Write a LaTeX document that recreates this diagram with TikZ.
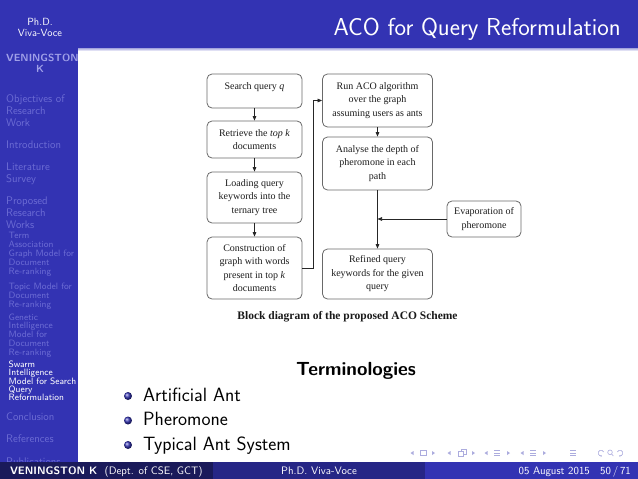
\documentclass[tikz,border=0pt]{standalone}
\usepackage{fontspec}
\usetikzlibrary{arrows.meta,calc}
\newfontfamily\timesf{Liberation Serif}
\definecolor{struct}{RGB}{51,51,179}
\definecolor{footA}{RGB}{26,26,90}
\definecolor{footB}{RGB}{38,38,134}
\definecolor{footC}{RGB}{51,51,179}
\definecolor{sidefade}{RGB}{108,108,212}
\definecolor{sideauth}{RGB}{160,160,232}
\definecolor{navc}{RGB}{172,172,222}
\definecolor{boxline}{RGB}{105,105,105}
\definecolor{boxtext}{RGB}{28,28,28}
\begin{document}
\begin{tikzpicture}[x=1pt,y=-1pt,
  fbox/.style={draw=boxline, line width=0.8pt, rounded corners=5pt, inner sep=0pt, align=center, text=boxtext, font=\timesf\fontsize{10}{13.5}\selectfont},
  conn/.style={draw=black!85, line width=0.7pt},
  arr/.style={conn, -{Triangle[length=4.5pt,width=3.6pt]}},
  sec/.style={anchor=base west, inner sep=0pt, text=sidefade, font=\sffamily\fontsize{11}{12}\selectfont},
  subsec/.style={anchor=base west, inner sep=0pt, text=sidefade, font=\sffamily\fontsize{9.2}{9}\selectfont},
  cursub/.style={subsec, text=white},
  sidetitle/.style={anchor=base, inner sep=0pt, text=white, font=\sffamily\fontsize{10.4}{12}\selectfont},
  sideauthor/.style={inner sep=0pt, text=sideauth, font=\sffamily\bfseries\fontsize{10.4}{12}\selectfont},
  foot/.style={inner sep=0pt, text=white, font=\sffamily\fontsize{10.8}{12}\selectfont},
  itemtext/.style={anchor=base west, inner sep=0pt, text=black, font=\sffamily\fontsize{19.2}{22}\selectfont},
  navline/.style={draw=navc, line width=0.6pt},
  navarc/.style={navline, -{Stealth[length=1.6pt,width=2pt]}},
]
\path[use as bounding box, fill=white] (0,0) rectangle (638,479);

% sidebar and title bar
\fill[struct] (0,0) rectangle (78,462);
\fill[struct] (0,0) rectangle (638,48);
\shade[top color=struct!45!white, bottom color=white] (78,48) rectangle (638,51);

% title
\node[anchor=base east, inner sep=0pt, text=white, font=\sffamily\fontsize{24.5}{28}\selectfont] (title) at (621,35) {ACO for Query Reformulation};

% sidebar texts
\node[sidetitle] (st1) at (40,25) {Ph.D.};
\node[sidetitle] (st2) at (40,36) {Viva-Voce};
\node[sideauthor, anchor=base west] (au1) at (6,61) {VENINGSTON};
\node[sideauthor, anchor=base] (au2) at (40,72) {K};

\node[sec] (s1a) at (6,102) {Objectives of};
\node[sec] (s1b) at (6,114) {Research};
\node[sec] (s1c) at (6,126) {Work};
\node[sec] (s2) at (6,148) {Introduction};
\node[sec] (s3a) at (6,170) {Literature};
\node[sec] (s3b) at (6,182) {Survey};
\node[sec] (s4a) at (6,204) {Proposed};
\node[sec] (s4b) at (6,216) {Research};
\node[sec] (s4c) at (6,228) {Works};

\node[subsec] (u1a) at (8.5,238) {Term};
\node[subsec] (u1b) at (8.5,247.2) {Association};
\node[subsec] (u1c) at (8.5,256.4) {Graph Model for};
\node[subsec] (u1d) at (8.5,265.6) {Document};
\node[subsec] (u1e) at (8.5,274.8) {Re-ranking};
\node[subsec] (u2a) at (8.5,289) {Topic Model for};
\node[subsec] (u2b) at (8.5,298) {Document};
\node[subsec] (u2c) at (8.5,307) {Re-ranking};
\node[subsec] (u3a) at (8.5,320) {Genetic};
\node[subsec] (u3b) at (8.5,328.8) {Intelligence};
\node[subsec] (u3c) at (8.5,337.6) {Model for};
\node[subsec] (u3d) at (8.5,346.4) {Document};
\node[subsec] (u3e) at (8.5,355.2) {Re-ranking};
\node[cursub] (u4a) at (8.5,367.5) {Swarm};
\node[cursub] (u4b) at (8.5,375.8) {Intelligence};
\node[cursub] (u4c) at (8.5,384.1) {Model for Search};
\node[cursub] (u4d) at (8.5,392.4) {Query};
\node[cursub] (u4e) at (8.5,400.7) {Reformulation};

\node[sec] (s5) at (6,420) {Conclusion};
\node[sec] (s6) at (6,442) {References};
\node[sec] (s7) at (6,465) {Publications};

% block diagram
\node[fbox, minimum width=95pt, minimum height=34pt, text height=7pt, text depth=10pt] (b1) at (254.5,91) {Search query \textit{q}};
\node[fbox, minimum width=95pt, minimum height=37pt] (b2) at (254.5,139.5) {Retrieve the \textit{top k}\\documents};
\node[fbox, minimum width=95pt, minimum height=51pt] (b3) at (254.5,197.5) {Loading query\\keywords into the\\ternary tree};
\node[fbox, minimum width=95pt, minimum height=62pt] (b4) at (254.5,268) {Construction of\\graph with words\\present in top \textit{k}\\documents};
\node[fbox, minimum width=110pt, minimum height=53pt] (b5) at (377.5,100.5) {Run ACO algorithm\\over the graph\\assuming users as ants};
\node[fbox, minimum width=110pt, minimum height=53pt] (b6) at (377.5,163.5) {Analyse the depth of\\pheromone in each\\path};
\node[fbox, minimum width=110pt, minimum height=50pt] (b7) at (377.5,274) {Refined query\\keywords for the given\\query};
\node[fbox, minimum width=74pt, minimum height=36pt] (b8) at (484,219) {Evaporation of\\pheromone};

\draw[arr] (b1) -- (b2);
\draw[arr] (b2) -- (b3);
\draw[arr] (b3) -- (b4);
\draw[arr] (b5) -- (b6);
\draw[arr] (b6) -- (b7);
\draw[arr] (b4.east) -- ++(11,0) |- (b5.west);
\coordinate (jn) at (b8.west -| b6.south);
\draw[arr] (b8.west) -- (jn);

\node[inner sep=0pt, text=black!90, font=\timesf\bfseries\fontsize{11.5}{13}\selectfont] (cap) at (347.5,316.5) {Block diagram of the proposed ACO Scheme};

% terminologies
\node[anchor=base, inner sep=0pt, text=black, font=\sffamily\bfseries\fontsize{19}{22}\selectfont] (term) at (356,375) {Terminologies};
\shade[ball color=struct] (128,396) circle (4);
\shade[ball color=struct] (128,420.5) circle (4);
\shade[ball color=struct] (128,445) circle (4);
\node[itemtext] (i1) at (143,401) {Artificial Ant};
\node[itemtext] (i2) at (143,425.5) {Pheromone};
\node[itemtext] (i3) at (143,450) {Typical Ant System};

% navigation symbols
\fill[navc] (410.5,453) -- (413.5,451) -- (413.5,455) -- cycle;
\draw[navline] (420,450.5) rectangle (426,455.5);
\fill[navc] (435,453) -- (432,451) -- (432,455) -- cycle;
\fill[navc] (447.5,453) -- (450.5,451) -- (450.5,455) -- cycle;
\draw[navline] (461,449.5) rectangle (466,454);
\draw[navline, fill=white] (458.5,451.5) rectangle (463.5,456);
\fill[navc] (475,453) -- (472,451) -- (472,455) -- cycle;
\fill[navc] (484.5,453) -- (487.5,451) -- (487.5,455) -- cycle;
\draw[navline] (494,450.5) -- (500,450.5) (494,453) -- (500,453) (494,455.5) -- (500,455.5);
\fill[navc] (510,453) -- (507,451) -- (507,455) -- cycle;
\fill[navc] (520.5,453) -- (523.5,451) -- (523.5,455) -- cycle;
\draw[navline] (530,450.5) -- (536,450.5) (530,453) -- (536,453) (530,455.5) -- (536,455.5);
\fill[navc] (546,453) -- (543,451) -- (543,455) -- cycle;
\draw[navline] (570,450.5) -- (576,450.5) (570,453) -- (576,453) (570,455.5) -- (576,455.5);
\draw[navarc] (601,453) ++(-20:2.8) arc[start angle=-20, end angle=-290, radius=2.8];
\draw[navline] (610,452.3) circle (2.3) (611.7,454) -- (613.3,456);
\draw[navarc] (620,453) ++(200:2.8) arc[start angle=200, end angle=470, radius=2.8];

% footer
\fill[footA] (0,462) rectangle (212.7,479);
\fill[footB] (212.7,462) rectangle (425.3,479);
\fill[footC] (425.3,462) rectangle (638,479);
\node[foot, anchor=base] (f1) at (106.3,474.5) {\textbf{VENINGSTON K}\ \ (Dept. of CSE, GCT)};
\node[foot, anchor=base] (f2) at (319,474.5) {Ph.D. Viva-Voce};
\node[foot, anchor=base east] (f3) at (590,474.5) {05 August 2015};
\node[foot, anchor=base east] (f4) at (631,474.5) {50\,/\,71};
\end{tikzpicture}
\end{document}
